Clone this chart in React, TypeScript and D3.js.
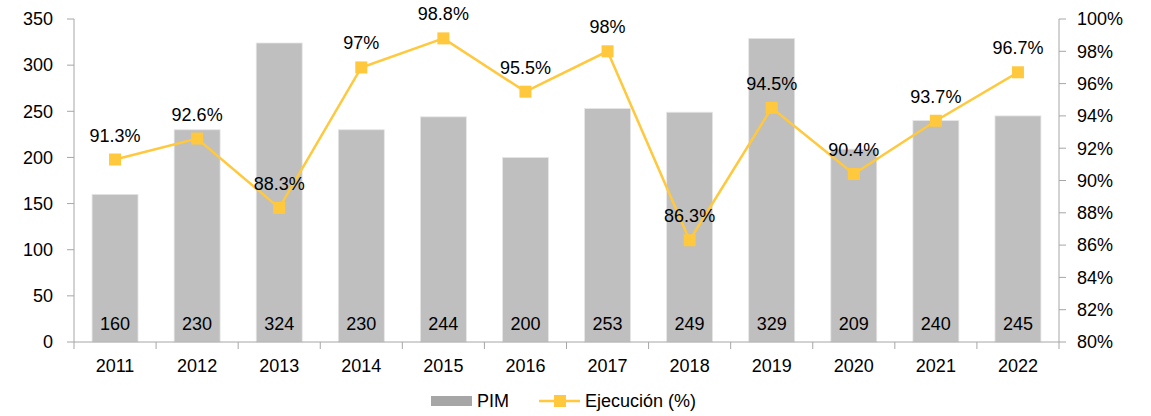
import React, { useEffect, useRef } from "react";
import * as d3 from "d3";

const years = ["2011", "2012", "2013", "2014", "2015", "2016", "2017", "2018", "2019", "2020", "2021", "2022"];
const pim = [160, 230, 324, 230, 244, 200, 253, 249, 329, 209, 240, 245];
const ejecucion = [91.3, 92.6, 88.3, 97, 98.8, 95.5, 98, 86.3, 94.5, 90.4, 93.7, 96.7];
const leftTicks = [0, 50, 100, 150, 200, 250, 300, 350];
const rightTicks = [80, 82, 84, 86, 88, 90, 92, 94, 96, 98, 100];

const W = 1151;
const H = 416;
const FONT = "'Liberation Sans', Arial, sans-serif";
const BAR = "#bfbfbf";
const LINE = "#ffc83d";
const AXIS = "#a6a6a6";

const App = () => {
  const svgRef = useRef<SVGSVGElement>(null);

  useEffect(() => {
    const svg = d3.select(svgRef.current);
    svg.selectAll("*").remove();

    const left = 74;
    const right = 1059;
    const top = 19;
    const bottom = 342;

    const x = d3.scaleBand().domain(years).range([left, right]).paddingInner(0.44).paddingOuter(0.22);
    const band = d3.scaleBand().domain(years).range([left, right]);
    const y = d3.scaleLinear().domain([0, 350]).range([bottom, top]);
    const y2 = d3.scaleLinear().domain([80, 100]).range([bottom, top]);

    // bars
    svg
      .append("g")
      .selectAll("rect")
      .data(pim)
      .join("rect")
      .attr("x", (d, i) => x(years[i])!)
      .attr("y", (d) => y(d))
      .attr("width", x.bandwidth())
      .attr("height", (d) => bottom - y(d))
      .attr("fill", BAR)
      .attr("stroke", "#e6e6e6")
      .attr("stroke-width", 0.8);

    svg
      .append("g")
      .selectAll("text")
      .data(pim)
      .join("text")
      .attr("x", (d, i) => band(years[i])! + band.bandwidth() / 2)
      .attr("y", 330)
      .attr("text-anchor", "middle")
      .attr("font-family", FONT)
      .attr("font-size", 18)
      .attr("fill", "#000")
      .text((d) => d);

    // left axis
    const gl = svg.append("g");
    gl.append("line").attr("x1", left).attr("x2", left).attr("y1", top).attr("y2", bottom).attr("stroke", AXIS);
    leftTicks.forEach((t) => {
      gl.append("line").attr("x1", left - 7).attr("x2", left).attr("y1", y(t)).attr("y2", y(t)).attr("stroke", AXIS);
      gl.append("text")
        .attr("x", 53)
        .attr("y", y(t))
        .attr("dy", "0.35em")
        .attr("text-anchor", "end")
        .attr("font-family", FONT)
        .attr("font-size", 18)
        .text(t);
    });

    // right axis
    const gr = svg.append("g");
    gr.append("line").attr("x1", right).attr("x2", right).attr("y1", top).attr("y2", bottom).attr("stroke", AXIS);
    rightTicks.forEach((t) => {
      gr.append("line").attr("x1", right).attr("x2", right + 7).attr("y1", y2(t)).attr("y2", y2(t)).attr("stroke", AXIS);
      gr.append("text")
        .attr("x", 1077)
        .attr("y", y2(t))
        .attr("dy", "0.35em")
        .attr("font-family", FONT)
        .attr("font-size", 18)
        .text(t + "%");
    });

    // bottom axis
    const gb = svg.append("g");
    gb.append("line").attr("x1", left).attr("x2", right).attr("y1", bottom).attr("y2", bottom).attr("stroke", AXIS);
    years.forEach((yr, i) => {
      const bx = band(yr)!;
      gb.append("line").attr("x1", bx).attr("x2", bx).attr("y1", bottom).attr("y2", bottom + 7).attr("stroke", AXIS);
      gb.append("text")
        .attr("x", bx + band.bandwidth() / 2)
        .attr("y", 372)
        .attr("text-anchor", "middle")
        .attr("font-family", FONT)
        .attr("font-size", 18)
        .text(yr);
    });
    gb.append("line").attr("x1", right).attr("x2", right).attr("y1", bottom).attr("y2", bottom + 7).attr("stroke", AXIS);

    // line series
    const cx = (i: number) => band(years[i])! + band.bandwidth() / 2;
    const line = d3
      .line<number>()
      .x((d, i) => cx(i))
      .y((d) => y2(d));

    svg
      .append("path")
      .datum(ejecucion)
      .attr("fill", "none")
      .attr("stroke", LINE)
      .attr("stroke-width", 2.5)
      .attr("d", line);

    svg
      .append("g")
      .selectAll("rect")
      .data(ejecucion)
      .join("rect")
      .attr("x", (d, i) => cx(i) - 6)
      .attr("y", (d) => y2(d) - 6)
      .attr("width", 12)
      .attr("height", 12)
      .attr("fill", LINE);

    svg
      .append("g")
      .selectAll("text")
      .data(ejecucion)
      .join("text")
      .attr("x", (d, i) => cx(i))
      .attr("y", (d) => y2(d) - 18)
      .attr("text-anchor", "middle")
      .attr("font-family", FONT)
      .attr("font-size", 18)
      .text((d) => d + "%");

    // legend
    const lg = svg.append("g");
    lg.append("rect").attr("x", 431).attr("y", 396).attr("width", 41).attr("height", 10).attr("fill", "#a6a6a6");
    lg.append("text").attr("x", 477).attr("y", 407).attr("font-family", FONT).attr("font-size", 18).text("PIM");
    lg.append("line").attr("x1", 539).attr("x2", 580).attr("y1", 401).attr("y2", 401).attr("stroke", LINE).attr("stroke-width", 2.5);
    lg.append("rect").attr("x", 554).attr("y", 395).attr("width", 12).attr("height", 12).attr("fill", LINE);
    lg.append("text").attr("x", 585).attr("y", 407).attr("font-family", FONT).attr("font-size", 18).text("Ejecución (%)");
  }, []);

  return (
    <svg
      ref={svgRef}
      width={W}
      height={H}
      style={{ position: "absolute", left: 0, top: 0, background: "#fff" }}
    />
  );
};

export default App;
